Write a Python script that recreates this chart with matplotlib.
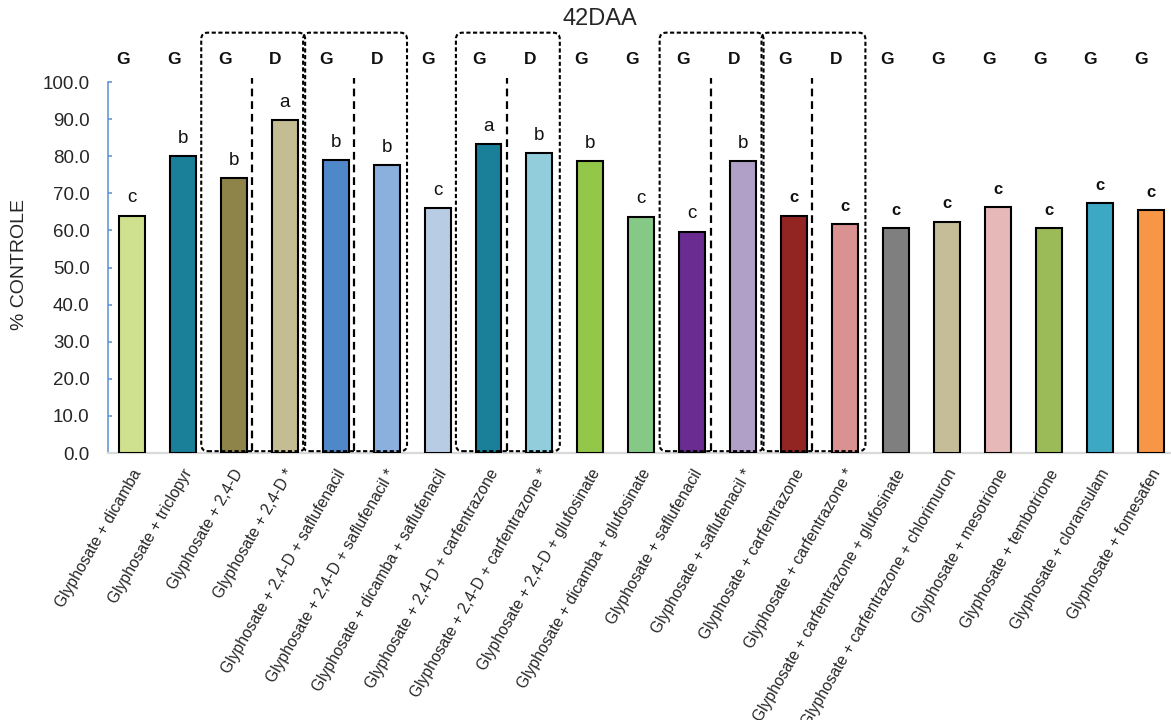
import matplotlib
matplotlib.use("Agg")
import matplotlib.pyplot as plt
from matplotlib.patches import FancyBboxPatch
from matplotlib.transforms import ScaledTranslation

plt.rcParams['font.family'] = ['Liberation Sans', 'DejaVu Sans']

# Treatments, control (%) and significance letters
treatments = [
    "Glyphosate + dicamba",
    "Glyphosate + triclopyr",
    "Glyphosate + 2,4-D",
    "Glyphosate + 2,4-D *",
    "Glyphosate + 2,4-D + saflufenacil",
    "Glyphosate + 2,4-D + saflufenacil *",
    "Glyphosate + dicamba + saflufenacil",
    "Glyphosate + 2,4-D + carfentrazone",
    "Glyphosate + 2,4-D + carfentrazone *",
    "Glyphosate + 2,4-D + glufosinate",
    "Glyphosate + dicamba + glufosinate",
    "Glyphosate + saflufenacil",
    "Glyphosate + saflufenacil *",
    "Glyphosate + carfentrazone",
    "Glyphosate + carfentrazone *",
    "Glyphosate + carfentrazone + glufosinate",
    "Glyphosate + carfentrazone + chlorimuron",
    "Glyphosate + mesotrione",
    "Glyphosate + tembotrione",
    "Glyphosate + cloransulam",
    "Glyphosate + fomesafen",
]
control = [64.0, 80.1, 74.0, 89.8, 78.9, 77.6, 66.1, 83.3, 80.9, 78.6, 63.7,
           59.7, 78.6, 64.0, 61.7, 60.7, 62.4, 66.3, 60.7, 67.3, 65.5]
letters = ["c", "b", "b", "a", "b", "b", "c", "a", "b", "b", "c",
           "c", "b", "c", "c", "c", "c", "c", "c", "c", "c"]
app_type = ["G", "G", "G", "D", "G", "D", "G", "G", "D", "G", "G",
            "G", "D", "G", "D", "G", "G", "G", "G", "G", "G"]
# pairs of treatments compared side by side (G vs D)
pairs = [(2, 3), (4, 5), (7, 8), (11, 12), (13, 14)]

colors = ["#CFE08E", "#1A7F99", "#8E844A", "#C4BC93", "#4F88C8", "#8BB0DE",
          "#B8CCE4", "#1A7F99", "#92CDDC", "#92C74A", "#86C986", "#6A2C90",
          "#B09FC6", "#922421", "#D99291", "#7F7F7F", "#C4BD97", "#E6B8B8",
          "#9BBB59", "#3DA8C4", "#F79646"]

fig = plt.figure(figsize=(11.71, 7.2), dpi=100)
ax = fig.add_axes([0.092, 0.3708, 0.908, 0.5153])

x = list(range(len(treatments)))
ax.bar(x, control, width=0.51, color=colors, edgecolor="black", linewidth=1.5, zorder=3)

ax.set_xlim(-0.476, 20.4)
ax.set_ylim(0, 100)
ax.set_yticks([i * 10 for i in range(11)])
ax.set_yticklabels([f"{i * 10:.1f}" for i in range(11)])
ax.tick_params(axis="y", direction="in", length=3, width=1.1, color="#5B8FD0",
               labelsize=13.5, labelcolor="#262626", pad=13)

ax.set_xticks(x)
ax.set_xticklabels(treatments, rotation=60, ha="right", va="center",
                   rotation_mode="anchor", fontsize=11.3, color="#262626")
ax.tick_params(axis="x", length=0, pad=12.5)
shift = ScaledTranslation(6 / 100, 0, fig.dpi_scale_trans)
for lbl in ax.get_xticklabels():
    lbl.set_transform(lbl.get_transform() + shift)

for side in ("top", "right"):
    ax.spines[side].set_visible(False)
ax.spines["left"].set_color("#5B8FD0")
ax.spines["left"].set_linewidth(1.1)
ax.spines["bottom"].set_color("#D9D9D9")
ax.spines["bottom"].set_linewidth(1.6)

# significance letters above bars
for i, (v, s) in enumerate(zip(control, letters)):
    bold = i >= 13
    ax.annotate(s, (i, v), xytext=(0, 9.5), textcoords="offset points",
                ha="center", va="baseline",
                fontsize=12 if bold else 13.5,
                fontweight="bold" if bold else "normal",
                color="#111111", zorder=5)

# application type markers above the plot
for i, t in enumerate(app_type):
    ax.text(i - 0.18, 106, t, ha="center", va="center", fontsize=12.5,
            fontweight="bold", color="#111111", clip_on=False)

# dashed boxes grouping each G/D pair
for a, b in pairs:
    left = a - 0.64
    right = b + 0.40
    box = FancyBboxPatch((left, 0.5), right - left, 113.3 - 0.5,
                         boxstyle="round,pad=0,rounding_size=0.13",
                         mutation_aspect=13.7, fill=False, edgecolor="black",
                         linewidth=1.5, linestyle=(0, (2, 1.2)), clip_on=False,
                         zorder=4)
    ax.add_patch(box)
    ax.plot([a + 0.36, a + 0.36], [0.5, 101.2], color="black", linewidth=1.6,
            linestyle=(0, (3.5, 2.2)), clip_on=False, zorder=4)

fig.text(0.5124, 0.974, "42DAA", ha="center", va="center", fontsize=17,
         color="#262626")
fig.text(20 / 1171, 1 - 265 / 720, "% CONTROLE", rotation=90, ha="center",
         va="center", fontsize=14, color="#262626")

fig.savefig("out.png", dpi=100)
